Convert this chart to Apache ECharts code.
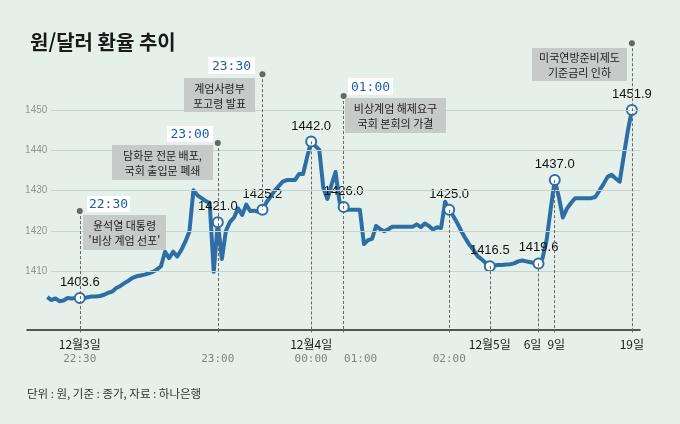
<!DOCTYPE html>
<html lang="ko">
<head>
<meta charset="utf-8">
<title>원/달러 환율 추이</title>
<script src="https://cdn.jsdelivr.net/npm/echarts@6.0.0/dist/echarts.min.js"></script>
<style>
  html, body { margin: 0; padding: 0; background: #e5f0ea; }
  #chart { width: 680px; height: 424px; }
</style>
</head>
<body>
<div id="chart"></div>
<script>
// 환율 (그림에서 읽은 값, 일정 간격의 구간)
var RATE = [
  1403.5, 1402.8, 1403.2, 1402.5, 1402.7, 1403.3, 1403.2, 1403.3, 1403.3, 1403.2,
  1403.5, 1403.7, 1403.7, 1403.8, 1404.1, 1404.6, 1404.9, 1405.8, 1406.3, 1407.0,
  1407.6, 1408.3, 1408.7, 1408.9, 1409.1, 1409.4, 1409.8, 1410.4, 1411.2, 1414.8,
  1413.2, 1414.8, 1413.6, 1415.2, 1417.3, 1419.8, 1430.1, 1428.8, 1428.1, 1427.4,
  1426.9, 1409.8, 1422.1, 1413.0, 1420.0, 1422.2, 1423.3, 1425.6, 1423.9, 1426.5,
  1424.9, 1425.0, 1424.7, 1425.2, 1427.1, 1428.5, 1430.0, 1431.1, 1432.2, 1432.6,
  1432.6, 1432.6, 1434.1, 1434.1, 1438.3, 1442.2, 1441.1, 1440.1, 1430.6, 1427.9,
  1431.4, 1434.6, 1427.1, 1425.9, 1425.2, 1425.2, 1425.2, 1425.2, 1416.7, 1417.7,
  1418.0, 1421.2, 1420.4, 1419.9, 1420.4, 1421.0, 1421.0, 1421.0, 1421.0, 1421.0,
  1421.0, 1421.6, 1420.9, 1421.8, 1421.2, 1420.3, 1420.9, 1420.7, 1427.2, 1425.2,
  1423.7, 1421.9, 1419.9, 1418.1, 1416.5, 1415.2, 1413.7, 1412.9, 1412.0, 1411.2,
  1411.4, 1411.5, 1411.5, 1411.6, 1411.7, 1411.9, 1412.4, 1412.6, 1412.4, 1412.2,
  1412.0, 1411.9, 1413.2, 1417.7, 1425.4, 1432.6, 1428.4, 1423.3, 1425.5, 1426.9,
  1428.1, 1428.1, 1428.1, 1428.1, 1428.1, 1428.4, 1430.0, 1431.6, 1433.4, 1433.9,
  1433.0, 1432.2, 1438.6, 1444.8, 1450.0
];

// x축 눈금 (구간 번호, 날짜, 시각)
var X_TICKS = [
  { at: 8, date: '12월3일', time: '22:30' },
  { at: 42, date: '', time: '23:00' },
  { at: 65, date: '12월4일', time: '00:00' },
  { at: 73, date: '', time: '01:00' },
  { at: 99, date: '', time: '02:00' },
  { at: 109, date: '12월5일', time: '' },
  { at: 121, date: '6일', time: '' },
  { at: 125, date: '9일', time: '' },
  { at: 144, date: '19일', time: '' }
];

// 표시된 지점과 숫자
var MARKED = [
  { at: 8, text: '1403.6' },
  { at: 42, text: '1421.0' },
  { at: 53, text: '1425.2' },
  { at: 65, text: '1442.0' },
  { at: 73, text: '1426.0' },
  { at: 99, text: '1425.0' },
  { at: 109, text: '1416.5' },
  { at: 121, text: '1419.6' },
  { at: 125, text: '1437.0' },
  { at: 144, text: '1451.9' }
];

var Y_TICKS = [1410, 1420, 1430, 1440, 1450];

var EVENT_TIMES = ['22:30', '23:00', '23:30', '01:00'];
var EVENT_NOTES = [
  "윤석열 대통령\n'비상 계엄 선포'",
  '담화문 전문 배포,\n국회 출입문 폐쇄',
  '계엄사령부\n포고령 발표',
  '비상계엄 해제요구\n국회 본회의 가결',
  '미국연방준비제도\n기준금리 인하'
];

// 점선: 시작점(안내 점의 높이), 끝
var VLINES = [
  { at: 8, anchor: 1424.9 },
  { at: 42, anchor: 1441.8 },
  { at: 53, anchor: 1458.9, stopAtLine: true },
  { at: 65 },
  { at: 73, anchor: 1453.5 },
  { at: 99 },
  { at: 109 },
  { at: 121 },
  { at: 125 },
  { at: 144, anchor: 1466.6 }
];

var PAD_L = 5, PAD_R = 2;
var Y_MIN = 1395.5, Y_MAX = 1468;
var BLUE = '#2d6fa5';

(function () {
  var myChart = echarts.init(document.getElementById('chart'));

  var total = PAD_L + RATE.length + PAD_R;
  var cats = [];
  for (var i = 0; i < total; i++) cats.push('p' + i);
  var last = total - 1;

  var tickAt = {};
  X_TICKS.forEach(function (t) { tickAt[t.at + PAD_L] = t; });
  // 겹치지 않게 옆으로 민 라벨
  var nudged = { '01:00': 't2', '6일': 'd2', '9일': 'd3' };

  // 안내 상자 배치
  var noteBoxes = [[83, 215, 83, 35], [112, 145, 101, 35], [184, 78, 71, 34], [345, 98, 101, 35], [532, 48, 95, 33]];
  var timeBoxes = [[87, 196, 43, 16], [167, 126, 46, 16], [208, 57, 47, 17], [348, 78, 45, 17]];

  var graphics = [];
  noteBoxes.forEach(function (b, k) {
    graphics.push({ type: 'rect', z: 50, shape: { x: b[0], y: b[1], width: b[2], height: b[3] }, style: { fill: '#c6cac8' } });
    graphics.push({
      type: 'text', z: 51,
      style: {
        text: EVENT_NOTES[k], x: b[0] + b[2] / 2, y: b[1] + b[3] / 2 + 1,
        align: 'center', verticalAlign: 'middle', lineHeight: 15,
        fill: '#1e1e1e', font: '11px "Noto Sans CJK KR"'
      }
    });
  });
  timeBoxes.forEach(function (b, k) {
    graphics.push({ type: 'rect', z: 50, shape: { x: b[0], y: b[1], width: b[2], height: b[3] }, style: { fill: '#ffffff' } });
    graphics.push({
      type: 'text', z: 51,
      style: {
        text: EVENT_TIMES[k], x: b[0] + b[2] / 2, y: b[1] + b[3] / 2 + 1,
        align: 'center', verticalAlign: 'middle',
        fill: '#1f5da8', font: '13px "DejaVu Sans Mono"'
      }
    });
  });
  graphics.push({
    type: 'text', z: 51,
    style: {
      text: '단위 : 원, 기준 : 종가, 자료 : 하나은행', x: 27, y: 394,
      verticalAlign: 'middle', fill: '#333', font: '11.5px "Noto Sans CJK KR"'
    }
  });

  var option = {
    animation: false,
    backgroundColor: '#e5f0ea',
    title: {
      text: '원/달러 환율 추이',
      left: 25, top: 27,
      textStyle: { fontSize: 20, fontWeight: 'bold', color: '#1a1a1a', fontFamily: 'Noto Sans CJK KR' }
    },
    grid: { left: 27, right: 40, top: 37.6, bottom: 94.6, containLabel: false, outerBoundsMode: 'none' },
    xAxis: {
      type: 'category',
      data: cats,
      boundaryGap: false,
      axisLine: { lineStyle: { color: '#222', width: 1.5 } },
      axisTick: {
        show: true, length: 5,
        interval: function (idx) { return !!tickAt[idx]; },
        lineStyle: { color: '#666', type: [3, 2], width: 1 }
      },
      axisLabel: {
        interval: 0, margin: 8,
        formatter: function (val, idx) {
          var t = tickAt[idx];
          if (!t) return '';
          var s = t.date ? '{' + (nudged[t.date] || 'd') + '|' + t.date + '}' : '{d| }';
          if (t.time) s += '\n{' + (nudged[t.time] || 't') + '|' + t.time + '}';
          return s;
        },
        rich: {
          d: { fontSize: 12, color: '#1a1a1a', fontFamily: 'Noto Sans CJK KR', lineHeight: 15 },
          d2: { fontSize: 12, color: '#1a1a1a', fontFamily: 'Noto Sans CJK KR', lineHeight: 15, padding: [0, 12, 0, 0] },
          d3: { fontSize: 12, color: '#1a1a1a', fontFamily: 'Noto Sans CJK KR', lineHeight: 15, padding: [0, 0, 0, 3] },
          t: { fontSize: 11, color: '#7d8581', fontFamily: 'DejaVu Sans Mono', lineHeight: 14 },
          t2: { fontSize: 11, color: '#7d8581', fontFamily: 'DejaVu Sans Mono', lineHeight: 14, padding: [0, 0, 0, 34] }
        }
      },
      splitLine: { show: false }
    },
    yAxis: {
      type: 'value', min: Y_MIN, max: Y_MAX,
      axisLine: { show: false }, axisTick: { show: false },
      axisLabel: { show: false }, splitLine: { show: false }
    },
    graphic: graphics,
    series: [
      {
        // 가로 눈금선
        type: 'line', data: [], z: 1, silent: true,
        markLine: {
          silent: true, symbol: ['none', 'none'], animation: false,
          lineStyle: { color: '#c6d4cd', width: 1, type: 'solid' },
          label: {
            show: true, position: 'start', distance: 4, formatter: '{b}',
            color: '#8c9691', fontSize: 10, fontFamily: 'Liberation Sans'
          },
          emphasis: { disabled: true },
          data: Y_TICKS.map(function (v) {
            return [{ name: String(v), coord: [PAD_L + 1, v] }, { coord: [last, v] }];
          })
        }
      },
      {
        // 세로 점선
        type: 'line', data: [], z: 2, silent: true,
        markLine: {
          silent: true, symbol: ['none', 'none'], animation: false,
          lineStyle: { color: '#666', width: 1, type: [3, 2] },
          label: { show: false },
          emphasis: { disabled: true },
          data: VLINES.map(function (m) {
            var x = m.at + PAD_L;
            var hasDot = m.anchor != null;
            var top = hasDot ? m.anchor : RATE[m.at];
            var bottom = m.stopAtLine ? RATE[m.at] : Y_MIN;
            return [
              { coord: [x, top], symbol: hasDot ? 'circle' : 'none', symbolSize: 6, itemStyle: { color: '#555' } },
              { coord: [x, bottom], symbol: 'none' }
            ];
          })
        }
      },
      {
        name: '원/달러',
        type: 'line', z: 3,
        symbol: 'none',
        lineStyle: { color: BLUE, width: 4, join: 'round' },
        data: RATE.map(function (v, i) { return [i + PAD_L, v]; })
      },
      {
        type: 'scatter', z: 4,
        symbol: 'circle', symbolSize: 10,
        itemStyle: { color: '#ffffff', borderColor: BLUE, borderWidth: 2, opacity: 1 },
        label: {
          show: true, position: 'top', distance: 3,
          color: '#111', fontSize: 13, fontFamily: 'Liberation Sans',
          formatter: function (p) { return MARKED[p.dataIndex].text; }
        },
        data: MARKED.map(function (m) { return [m.at + PAD_L, RATE[m.at]]; })
      }
    ]
  };

  myChart.setOption(option);
  window.addEventListener('resize', function () { myChart.resize(); });
})();
</script>
</body>
</html>
